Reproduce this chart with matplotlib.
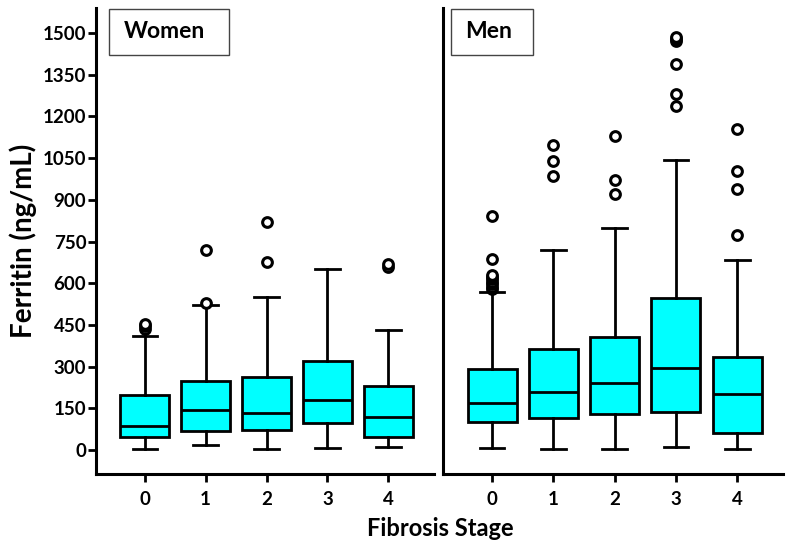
import matplotlib
matplotlib.use("Agg")
import matplotlib.pyplot as plt
from matplotlib.patches import Rectangle

plt.rcParams['font.family'] = ['Lato', 'DejaVu Sans']
plt.rcParams['font.weight'] = 'bold'

stages = ['0', '1', '2', '3', '4']

# women: whisker low, q1, median, q3, whisker high
women_wlo = [5, 18, 3, 6, 10]
women_q1 = [46, 68, 73, 96, 48]
women_med = [86, 143, 132, 180, 118]
women_q3 = [197, 250, 264, 320, 230]
women_whi = [410, 522, 552, 650, 430]
women_out = [[435, 445, 452], [530, 720], [678, 821], [], [660, 670]]

# men
men_wlo = [6, 5, 5, 10, 5]
men_q1 = [100, 114, 131, 136, 60]
men_med = [168, 210, 240, 296, 202]
men_q3 = [290, 364, 406, 546, 334]
men_whi = [570, 720, 797, 1042, 684]
men_out = [[578, 588, 598, 606, 614, 622, 630, 686, 843],
           [987, 1038, 1098],
           [922, 971, 1130],
           [1236, 1280, 1390, 1470, 1478, 1486],
           [774, 939, 1003, 1156]]

yticks = list(range(0, 1501, 150))

fig = plt.figure(figsize=(8, 5.53), dpi=100)
ax1 = fig.add_axes([0.12, 0.143, 0.4225, 0.843])
ax2 = fig.add_axes([0.554, 0.143, 0.425, 0.843])


def make_stats(wlo, q1, med, q3, whi, out):
    stats = []
    for i in range(len(med)):
        stats.append({'whislo': wlo[i], 'q1': q1[i], 'med': med[i], 'q3': q3[i],
                      'whishi': whi[i], 'fliers': out[i], 'label': stages[i]})
    return stats


# panel name, label box (x, width) and text x in axes coords
panels = [
    (ax1, make_stats(women_wlo, women_q1, women_med, women_q3, women_whi, women_out),
     'Women', 0.038, 0.355, 0.083),
    (ax2, make_stats(men_wlo, men_q1, men_med, men_q3, men_whi, men_out),
     'Men', 0.0235, 0.241, 0.065),
]

for ax, stats, name, bx, bw, tx in panels:
    ax.bxp(stats, positions=range(5), widths=0.8, patch_artist=True,
           boxprops=dict(facecolor='#00ffff', edgecolor='black', linewidth=2.0),
           medianprops=dict(color='black', linewidth=2.0),
           whiskerprops=dict(color='black', linewidth=2.0),
           capprops=dict(color='black', linewidth=2.0),
           capwidths=0.4,
           flierprops=dict(marker='o', markersize=7, markerfacecolor='white',
                           markeredgecolor='black', markeredgewidth=2.2))
    ax.set_xlim(-0.8, 4.75)
    ax.set_ylim(-86, 1591)
    ax.spines['top'].set_visible(False)
    ax.spines['right'].set_visible(False)
    ax.spines['left'].set_linewidth(2.2)
    ax.spines['bottom'].set_linewidth(2.2)
    ax.tick_params(axis='x', direction='out', length=6, width=2, labelsize=13.5, pad=6)
    ax.tick_params(axis='y', direction='out', length=6, width=2, labelsize=13.5, pad=1)
    ax.add_patch(Rectangle((bx, 0.899), bw, 0.099, transform=ax.transAxes,
                           facecolor='white', edgecolor='#444444', linewidth=1, zorder=5))
    ax.text(tx, 0.948, name, transform=ax.transAxes, fontsize=16.5, fontweight='bold',
            va='center', ha='left', zorder=6)

ax1.set_yticks(yticks)
ax1.set_yticklabels([str(v) for v in yticks])
ax2.set_yticks([])
ax2.tick_params(axis='y', length=0)

ax1.set_ylabel('Ferritin (ng/mL)', fontsize=20, fontweight='bold', labelpad=4)
fig.text(0.55, 0.045, 'Fibrosis Stage', ha='center', va='center', fontsize=17, fontweight='bold')

fig.savefig('out.png', dpi=100)
